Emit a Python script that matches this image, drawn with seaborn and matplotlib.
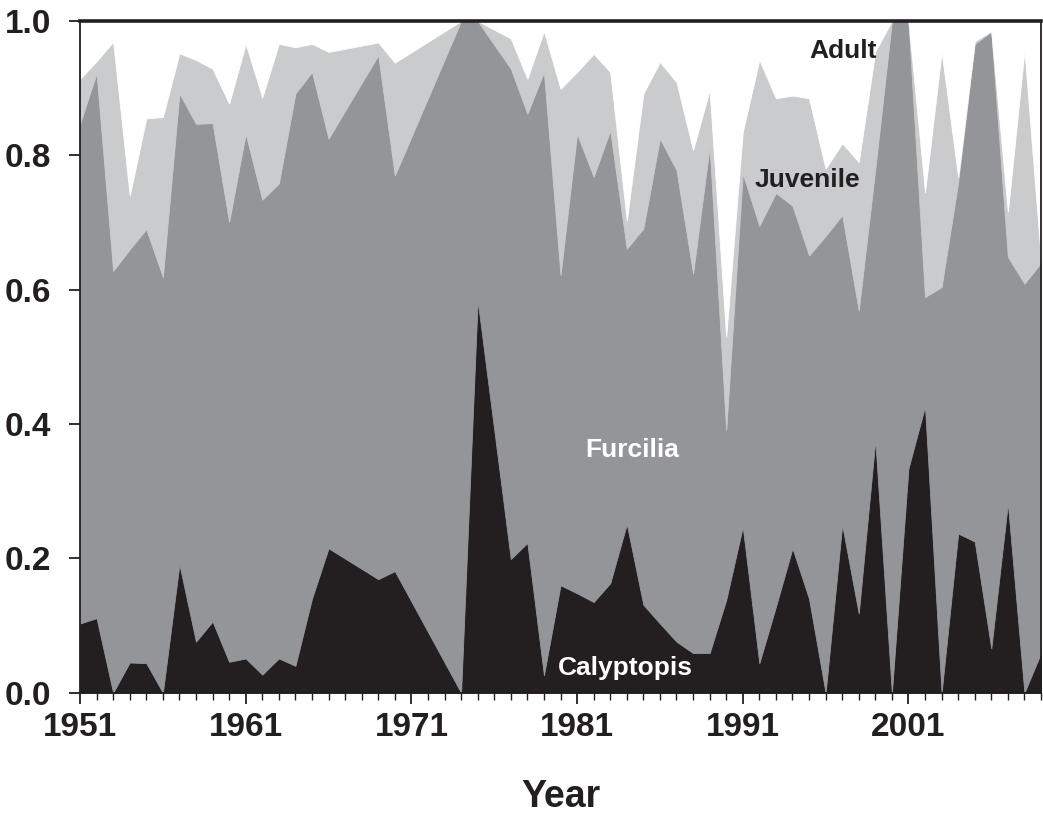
import numpy as np
import pandas as pd
import matplotlib
matplotlib.use("Agg")
import matplotlib.pyplot as plt
import seaborn as sns
from matplotlib.ticker import FixedLocator, MultipleLocator

# ---- data: proportion of each krill stage per year ----
years = [1951, 1952, 1953, 1954, 1955, 1956, 1957, 1958, 1959, 1960,
         1961, 1962, 1963, 1964, 1965, 1966, 1969, 1970, 1974, 1975,
         1977, 1978, 1979, 1980, 1981, 1982, 1983, 1984, 1985, 1986,
         1987, 1988, 1989, 1990, 1991, 1992, 1993, 1994, 1995, 1996,
         1997, 1998, 1999, 2000, 2001, 2002, 2003, 2004, 2005, 2006,
         2007, 2008, 2009]

calyptopis = [0.103, 0.111, 0.000, 0.045, 0.044, 0.000, 0.191, 0.076, 0.106, 0.046,
              0.051, 0.027, 0.051, 0.040, 0.140, 0.215, 0.169, 0.181, 0.000, 0.584,
              0.199, 0.223, 0.026, 0.160, 0.148, 0.135, 0.163, 0.251, 0.131, 0.103,
              0.076, 0.059, 0.059, 0.138, 0.247, 0.044, 0.128, 0.215, 0.140, 0.000,
              0.250, 0.118, 0.376, 0.000, 0.334, 0.426, 0.000, 0.237, 0.225, 0.066,
              0.282, 0.000, 0.059]

furcilia = [0.744, 0.811, 0.628, 0.615, 0.646, 0.619, 0.701, 0.771, 0.742, 0.655,
            0.781, 0.707, 0.707, 0.852, 0.784, 0.610, 0.780, 0.589, 1.000, 0.416,
            0.730, 0.639, 0.898, 0.462, 0.684, 0.633, 0.674, 0.410, 0.560, 0.722,
            0.702, 0.565, 0.754, 0.253, 0.526, 0.651, 0.616, 0.510, 0.511, 0.680,
            0.461, 0.451, 0.404, 1.000, 0.666, 0.163, 0.604, 0.523, 0.741, 0.918,
            0.367, 0.609, 0.581]

juvenile = [0.067, 0.018, 0.341, 0.080, 0.165, 0.238, 0.060, 0.095, 0.081, 0.176,
            0.134, 0.152, 0.208, 0.069, 0.042, 0.129, 0.019, 0.168, 0.000, 0.000,
            0.045, 0.052, 0.061, 0.277, 0.092, 0.183, 0.087, 0.042, 0.201, 0.114,
            0.131, 0.184, 0.084, 0.139, 0.062, 0.247, 0.141, 0.164, 0.234, 0.100,
            0.107, 0.221, 0.175, 0.000, 0.000, 0.156, 0.350, 0.008, 0.004, 0.001,
            0.067, 0.347, 0.005]

adult = [0.086, 0.060, 0.031, 0.260, 0.145, 0.143, 0.048, 0.058, 0.071, 0.123,
         0.034, 0.114, 0.034, 0.039, 0.034, 0.046, 0.032, 0.062, 0.000, 0.000,
         0.026, 0.086, 0.015, 0.101, 0.076, 0.049, 0.076, 0.297, 0.108, 0.061,
         0.091, 0.192, 0.103, 0.470, 0.165, 0.058, 0.115, 0.111, 0.115, 0.220,
         0.183, 0.210, 0.045, 0.000, 0.000, 0.255, 0.046, 0.232, 0.030, 0.015,
         0.284, 0.044, 0.355]

stage_names = ["Calyptopis", "Furcilia", "Juvenile", "Adult"]
stage_colors = ["#231f20", "#939598", "#c9cbcd", "#ffffff"]
x_ticks = [1951, 1961, 1971, 1981, 1991, 2001]
x_tick_labels = ["1951", "1961", "1971", "1981", "1991", "2001"]
y_ticks = [0.0, 0.2, 0.4, 0.6, 0.8, 1.0]
y_tick_labels = ["0.0", "0.2", "0.4", "0.6", "0.8", "1.0"]

df = pd.DataFrame({"Year": years, "Calyptopis": calyptopis, "Furcilia": furcilia,
                   "Juvenile": juvenile, "Adult": adult})

# ---- style ----
sns.set_theme(style="ticks")
plt.rcParams["font.family"] = ["Liberation Sans Narrow", "Liberation Sans", "DejaVu Sans"]

fig = plt.figure(figsize=(10.43, 8.19), dpi=100)
ax = fig.add_axes([80 / 1043, (819 - 692.7) / 819, (1041 - 80) / 1043, (692.7 - 21) / 819])

polys = ax.stackplot(df["Year"], [df[s] for s in stage_names],
                     colors=stage_colors, labels=stage_names)
for p, c in zip(polys, stage_colors):
    p.set_edgecolor(c)
    p.set_linewidth(0.6)

ax.set_xlim(1951, 2009)
ax.set_ylim(0, 1.0)

ax.xaxis.set_major_locator(FixedLocator(x_ticks))
ax.set_xticklabels(x_tick_labels)
ax.xaxis.set_minor_locator(MultipleLocator(1))
ax.yaxis.set_major_locator(FixedLocator(y_ticks))
ax.set_yticklabels(y_tick_labels)

ink = "#231f20"
ax.tick_params(axis="both", which="major", direction="out", length=8, width=1.3,
               color=ink, labelcolor=ink, labelsize=24)
ax.tick_params(axis="x", which="major", pad=6)
ax.tick_params(axis="y", which="major", pad=13)
ax.tick_params(axis="x", which="minor", direction="out", length=5, width=1.0, color=ink)
for lab in ax.get_xticklabels() + ax.get_yticklabels():
    lab.set_fontweight("bold")

for side in ["left", "bottom", "right"]:
    ax.spines[side].set_visible(True)
    ax.spines[side].set_color(ink)
    ax.spines[side].set_linewidth(1.3)
ax.spines["top"].set_visible(True)
ax.spines["top"].set_color(ink)
ax.spines["top"].set_linewidth(2.6)

ax.set_xlabel("Year", fontsize=27, fontweight="bold", color=ink, labelpad=26)
ax.set_ylabel("")

label_font = ["Liberation Sans", "DejaVu Sans"]
ax.text(1997.06, 0.955, "Adult", ha="center", va="center", fontsize=19,
        fontweight="bold", color=ink, family=label_font)
ax.text(1994.89, 0.763, "Juvenile", ha="center", va="center", fontsize=19,
        fontweight="bold", color=ink, family=label_font)
ax.text(1984.31, 0.361, "Furcilia", ha="center", va="center", fontsize=19,
        fontweight="bold", color="white", family=label_font)
ax.text(1983.89, 0.037, "Calyptopis", ha="center", va="center", fontsize=19,
        fontweight="bold", color="white", family=label_font)

fig.savefig("out.png", dpi=100)
